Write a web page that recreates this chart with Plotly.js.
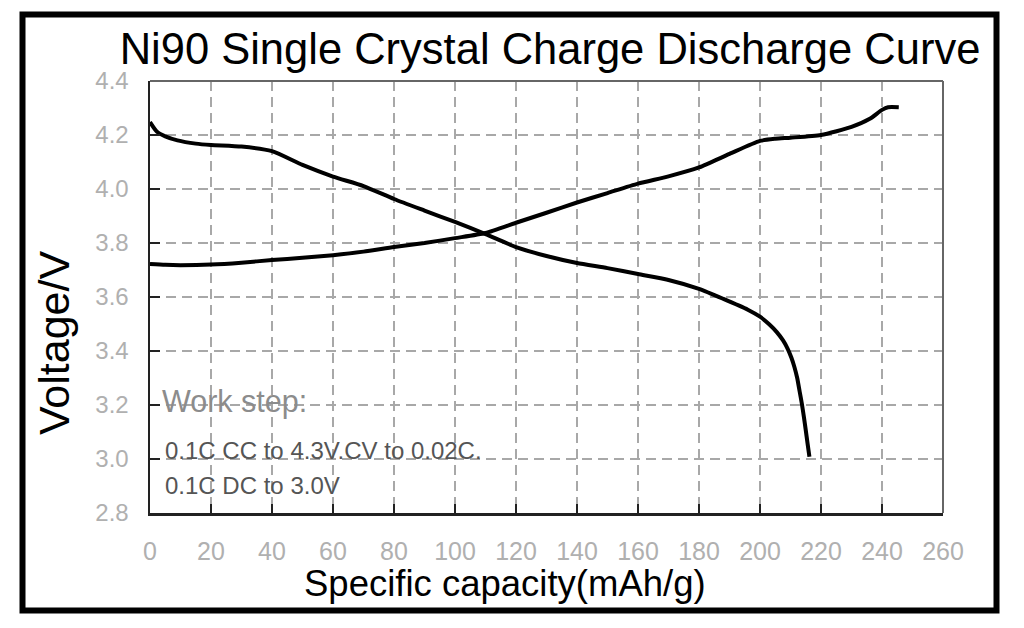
<!DOCTYPE html>
<html>
<head>
<meta charset="utf-8">
<script src="https://cdn.plot.ly/plotly-3.0.1.min.js"></script>
<style>html,body{margin:0;padding:0;background:#fff;}#chart{width:1024px;height:628px;}</style>
</head>
<body>
<div id="chart"></div>
<script>
// Charge curve (specific capacity mAh/g, voltage V)
var chargeCapacity = [0, 5, 10, 20, 30, 40, 50, 60, 70, 80, 90, 100, 110, 120, 130, 140, 150, 160, 170, 180, 190, 200, 205, 210, 220, 230, 236, 240, 242, 245.5];
var chargeVoltage  = [3.722, 3.719, 3.718, 3.72, 3.727, 3.737, 3.745, 3.755, 3.768, 3.785, 3.8, 3.818, 3.837, 3.875, 3.912, 3.95, 3.985, 4.02, 4.047, 4.08, 4.13, 4.178, 4.186, 4.19, 4.2, 4.23, 4.26, 4.293, 4.303, 4.303];

// Discharge curve
var dischargeCapacity = [0, 2.3, 5, 9, 15, 20, 30, 40, 50, 60, 70, 80, 90, 100, 110, 120, 130, 140, 150, 160, 170, 180, 188, 196, 200, 203, 205.5, 207.5, 209, 210.3, 211.3, 212.2, 213, 213.7, 214.4, 215, 215.6, 216.2];
var dischargeVoltage  = [4.248, 4.212, 4.195, 4.18, 4.168, 4.163, 4.157, 4.14, 4.089, 4.046, 4.011, 3.963, 3.92, 3.878, 3.833, 3.785, 3.752, 3.726, 3.707, 3.685, 3.663, 3.63, 3.593, 3.553, 3.527, 3.499, 3.47, 3.44, 3.41, 3.375, 3.34, 3.30, 3.25, 3.206, 3.155, 3.107, 3.057, 3.008];

var xTicks = [0, 20, 40, 60, 80, 100, 120, 140, 160, 180, 200, 220, 240, 260];
var yTicks = [2.8, 3.0, 3.2, 3.4, 3.6, 3.8, 4.0, 4.2, 4.4];

var titleText = 'Ni90 Single Crystal Charge Discharge Curve';
var xTitleText = 'Specific capacity(mAh/g)';
var yTitleText = 'Voltage/V';
var noteTitle = 'Work step:';
var noteLine1 = '0.1C CC to 4.3V.CV to 0.02C.';
var noteLine2 = '0.1C DC to 3.0V';

var FONT = 'Liberation Sans, Arial, sans-serif';

var traces = [
  {x: chargeCapacity, y: chargeVoltage, type: 'scatter', mode: 'lines', name: 'Charge',
   line: {color: '#000', width: 4, shape: 'spline', smoothing: 0.6}, hoverinfo: 'x+y'},
  {x: dischargeCapacity, y: dischargeVoltage, type: 'scatter', mode: 'lines', name: 'Discharge',
   line: {color: '#000', width: 4, shape: 'spline', smoothing: 0.6}, hoverinfo: 'x+y'}
];

var L = 150, R = 81, T = 81, B = 115;
var PW = 1024 - L - R, PH = 628 - T - B;
function px(X) { return (X - L) / PW; }
function py(Y) { return (628 - B - Y) / PH; }

var layout = {
  width: 1024, height: 628,
  margin: {l: L, r: R, t: T, b: B},
  paper_bgcolor: '#fff', plot_bgcolor: '#fff',
  showlegend: false,
  font: {family: FONT},
  title: {text: titleText, font: {family: FONT, size: 43.5, color: '#000'},
          xref: 'container', x: 550 / 1024, xanchor: 'center',
          yref: 'container', y: 1 - 49 / 628, yanchor: 'middle'},
  xaxis: {range: [0, 260], tickvals: xTicks, ticktext: xTicks.map(String),
          showgrid: true, gridcolor: '#a8a8a8', gridwidth: 2, griddash: '10px,6px',
          zeroline: false, showline: true, linecolor: '#222', linewidth: 2.5,
          ticks: 'inside', ticklen: 9, tickwidth: 2, tickcolor: '#222',
          ticklabelstandoff: 14,
          tickfont: {family: FONT, size: 25, color: '#b0b0b0'}},
  yaxis: {range: [2.8, 4.4], tickvals: yTicks, ticktext: yTicks.map(function(v){return v.toFixed(1);}),
          showgrid: true, gridcolor: '#a8a8a8', gridwidth: 2, griddash: '10px,6px',
          zeroline: false, showline: true, linecolor: '#222', linewidth: 2.5,
          ticks: 'inside', ticklen: 10, tickwidth: 2, tickcolor: '#222',
          ticklabelstandoff: 14,
          tickfont: {family: FONT, size: 24, color: '#b0b0b0'}},
  shapes: [
    {type: 'line', xref: 'paper', yref: 'paper', x0: 0, x1: 1, y0: 1, y1: 1, line: {color: '#666', width: 2}},
    {type: 'line', xref: 'paper', yref: 'paper', x0: 1, x1: 1, y0: 0, y1: 1, line: {color: '#666', width: 2}},
    {type: 'rect', xref: 'paper', yref: 'paper', x0: px(22.5), x1: px(996.5), y0: py(610.5), y1: py(14.5),
     line: {color: '#000', width: 6}, fillcolor: 'rgba(0,0,0,0)'}
  ],
  annotations: [
    {text: yTitleText, xref: 'paper', yref: 'paper', x: px(54), y: py(343), xanchor: 'center', yanchor: 'middle',
     textangle: -90, showarrow: false, font: {family: FONT, size: 43, color: '#000'}},
    {text: xTitleText, xref: 'paper', yref: 'paper', x: px(504.5), y: py(583), xanchor: 'center', yanchor: 'middle',
     showarrow: false, font: {family: FONT, size: 36.5, color: '#000'}},
    {text: noteTitle, xref: 'paper', yref: 'paper', x: px(160), y: py(401), xanchor: 'left', yanchor: 'middle',
     showarrow: false, font: {family: FONT, size: 30.5, color: '#8c8c8c'}},
    {text: noteLine1, xref: 'paper', yref: 'paper', x: px(163), y: py(450), xanchor: 'left', yanchor: 'middle',
     showarrow: false, font: {family: FONT, size: 24, color: '#555'}},
    {text: noteLine2, xref: 'paper', yref: 'paper', x: px(163), y: py(485), xanchor: 'left', yanchor: 'middle',
     showarrow: false, font: {family: FONT, size: 24, color: '#555'}}
  ]
};

Plotly.newPlot('chart', traces, layout, {displayModeBar: false, staticPlot: true});
</script>
</body>
</html>
